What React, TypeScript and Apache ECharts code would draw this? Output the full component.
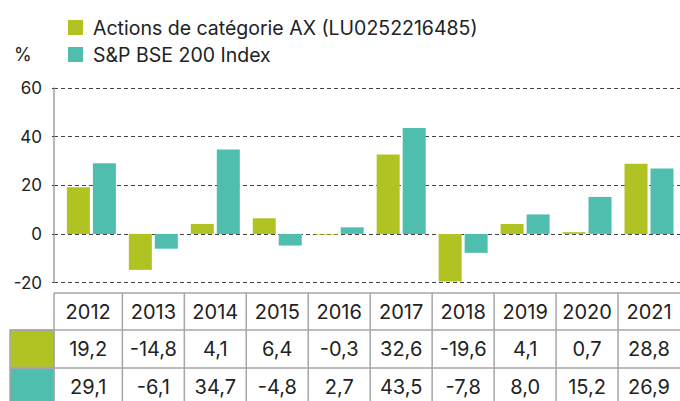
import React, { useEffect, useRef } from 'react';
import * as echarts from 'echarts';

const years = ['2012', '2013', '2014', '2015', '2016', '2017', '2018', '2019', '2020', '2021'];
const fundValues = [19.2, -14.8, 4.1, 6.4, -0.3, 32.6, -19.6, 4.1, 0.7, 28.8];
const indexValues = [29.1, -6.1, 34.7, -4.8, 2.7, 43.5, -7.8, 8.0, 15.2, 26.9];
const seriesNames = ['Actions de catégorie AX (LU0252216485)', 'S&P BSE 200 Index'];
const seriesColors = ['#b0c322', '#50beaf'];
const yMin = -20;
const yMax = 60;
const yStep = 20;
const unitLabel = '%';

const FONT = 'Inter';
const TEXT = '#222';
const TABLE_LINE = '#a6a6a6';

const fmt = (v: number) => v.toFixed(1).replace('.', ',');

export default function App() {
  const ref = useRef<HTMLDivElement>(null);
  useEffect(() => {
    if (!ref.current) return;
    const chart = echarts.init(ref.current, null, { renderer: 'svg' });
    const top = 88;
    const height = 194.5;
    chart.setOption({
      animation: false,
      legend: {
        orient: 'vertical',
        left: 68,
        top: 17.5,
        padding: 0,
        itemWidth: 15,
        itemHeight: 15,
        itemGap: 7,
        icon: 'rect',
        data: seriesNames,
        selectedMode: false,
        textStyle: { fontFamily: FONT, fontSize: 19.5, color: TEXT, padding: [0, 0, 0, 5] },
      },
      grid: [
        { left: 54, right: 0, top, height },
        { left: 60.4, width: 622, top, height },
      ],
      xAxis: [
        { gridIndex: 0, type: 'value', show: false },
        {
          gridIndex: 1,
          type: 'category',
          data: years,
          axisLine: { show: false },
          axisTick: { show: false },
          axisLabel: { show: false },
        },
      ],
      yAxis: [
        {
          gridIndex: 0,
          type: 'value',
          min: yMin,
          max: yMax,
          interval: yStep,
          axisLine: { show: true, lineStyle: { color: '#a0a0a0', width: 1.5 } },
          axisTick: { show: true, length: 2, lineStyle: { color: '#444' } },
          axisLabel: { fontFamily: FONT, fontSize: 17, color: TEXT, margin: 12 },
          splitLine: { show: true, lineStyle: { color: '#444', type: [4, 3], width: 1 } },
        },
        { gridIndex: 1, type: 'value', min: yMin, max: yMax, interval: yStep, show: false },
      ],
      series: [
        {
          name: seriesNames[0],
          type: 'bar',
          xAxisIndex: 1,
          yAxisIndex: 1,
          data: fundValues,
          barWidth: 23,
          barGap: '13%',
          itemStyle: { color: seriesColors[0] },
        },
        {
          name: seriesNames[1],
          type: 'bar',
          xAxisIndex: 1,
          yAxisIndex: 1,
          data: indexValues,
          barWidth: 23,
          barGap: '13%',
          itemStyle: { color: seriesColors[1] },
        },
      ],
    });

    const centers = years.map((y) => chart.convertToPixel({ xAxisIndex: 1 }, y) as number);
    const band = centers.length > 1 ? centers[1] - centers[0] : 62;
    const axisX = 54;
    const colorLeft = 10;
    const rowTops = [293, 330, 368];
    const rowH = 37.5;
    const bottom = 405;
    const W = 680;
    const g: any[] = [];
    const line = (x1: number, y1: number, x2: number, y2: number) =>
      g.push({ type: 'line', z: 10, shape: { x1, y1, x2, y2 }, style: { stroke: TABLE_LINE, lineWidth: 1.5 } });

    [fundValues, indexValues].forEach((_, r) => {
      g.push({
        type: 'rect',
        z: 9,
        shape: { x: colorLeft, y: rowTops[r + 1], width: axisX - colorLeft, height: rowH },
        style: { fill: seriesColors[r], stroke: TABLE_LINE, lineWidth: 1.5 },
      });
    });
    line(axisX, rowTops[0], W, rowTops[0]);
    line(colorLeft, rowTops[1], W, rowTops[1]);
    line(colorLeft, rowTops[2], W, rowTops[2]);
    line(axisX, rowTops[0], axisX, bottom);
    centers.forEach((c, i) => {
      if (i < centers.length - 1) line(c + band / 2, rowTops[0], c + band / 2, bottom);
    });
    const rows = [years, fundValues.map(fmt), indexValues.map(fmt)];
    rows.forEach((row, r) => {
      row.forEach((t, i) => {
        const left = i === 0 ? axisX : centers[i] - band / 2;
        const right = centers[i] + band / 2;
        g.push({
          type: 'text',
          z: 11,
          x: (left + right) / 2,
          y: rowTops[r] + rowH / 2 + 0.5,
          style: { text: t, fontFamily: FONT, fontSize: 20, fill: TEXT, align: 'center', verticalAlign: 'middle' },
        });
      });
    });
    g.push({
      type: 'text',
      x: 14,
      y: 54,
      style: { text: unitLabel, fontFamily: FONT, fontSize: 18, fill: TEXT, align: 'left', verticalAlign: 'middle' },
    });
    chart.setOption({ graphic: g });
    return () => chart.dispose();
  }, []);
  return <div ref={ref} style={{ position: 'absolute', left: 0, top: 0, width: 680, height: 401 }} />;
}
